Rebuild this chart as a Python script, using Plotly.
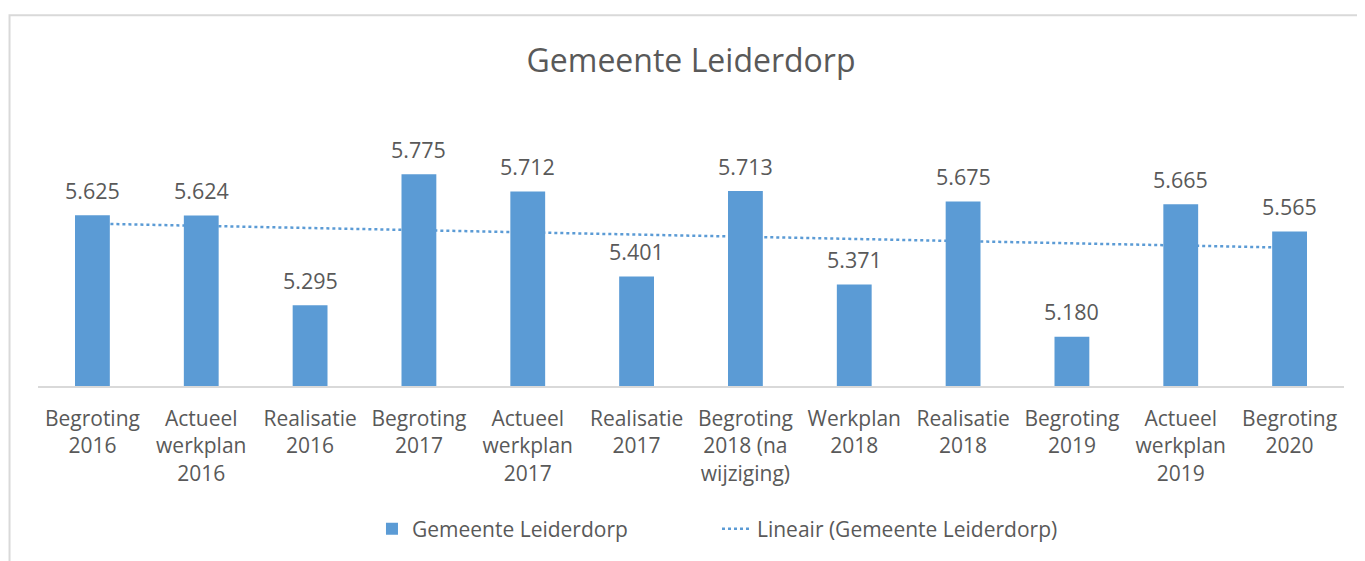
# Gemeente Leiderdorp: staafdiagram met lineaire trendlijn

import plotly.graph_objects as go

categorieen = ['Begroting<br>2016', 'Actueel<br>werkplan<br>2016', 'Realisatie<br>2016',
               'Begroting<br>2017', 'Actueel<br>werkplan<br>2017', 'Realisatie<br>2017',
               'Begroting<br>2018 (na<br>wijziging)', 'Werkplan<br>2018', 'Realisatie<br>2018',
               'Begroting<br>2019', 'Actueel<br>werkplan<br>2019', 'Begroting<br>2020']
waarden = [5.625, 5.624, 5.295, 5.775, 5.712, 5.401, 5.713, 5.371, 5.675, 5.180, 5.665, 5.565]
labels = ['5.625', '5.624', '5.295', '5.775', '5.712', '5.401',
          '5.713', '5.371', '5.675', '5.180', '5.665', '5.565']
# begin- en eindpunt van de trendlijn
trend_x = [categorieen[0], categorieen[-1]]
trend_y = [5.594, 5.506]

blauw = '#5B9BD5'
grijs = '#595959'
font = 'Open Sans'

fig = go.Figure()
fig.add_trace(go.Bar(x=categorieen, y=waarden, name='Gemeente Leiderdorp',
                     marker=dict(color=blauw, line=dict(width=0)), width=0.32,
                     xaxis='x2', yaxis='y2'))
fig.add_trace(go.Scatter(x=trend_x, y=trend_y, mode='lines', name='Lineair (Gemeente Leiderdorp)',
                         line=dict(color=blauw, width=2.5, dash='dot')))

for c, v, t in zip(categorieen, waarden, labels):
    fig.add_annotation(x=c, y=v, text=t, xref='x2', yref='y2', showarrow=False,
                       yanchor='middle', yshift=25, font=dict(size=21.5, color=grijs, family=font))

# plotgebied in pixels
links, rechts, boven, onder = 29.5, 1336.5, 132, 378.5
breed, hoog = rechts - links, onder - boven

as_stijl = dict(type='category', categoryorder='array', categoryarray=categorieen, range=[-0.5, 11.5])
fig.update_layout(
    width=1365, height=561,
    margin=dict(l=links, r=1365 - rechts, t=boven, b=561 - onder),
    paper_bgcolor='white', plot_bgcolor='white',
    font=dict(family=font, color=grijs),
    title=dict(text='Gemeente Leiderdorp', x=0.5, xref='paper', y=1 - 53 / 561, yanchor='middle',
               font=dict(size=32, color=grijs, family=font)),
    xaxis=dict(**as_stijl, showline=True, linecolor='#d9d9d9', linewidth=1.5, showgrid=False,
               ticks='', ticklabelstandoff=13, tickfont=dict(size=21, color=grijs, family=font)),
    xaxis2=dict(**as_stijl, overlaying='x', showticklabels=False, showgrid=False, showline=False),
    yaxis=dict(range=[5.0, 5.9], visible=False),
    yaxis2=dict(range=[5.0, 5.9], visible=False, overlaying='y'),
    showlegend=True,
    legend=dict(orientation='h', x=(709 - links) / breed, xanchor='center',
                y=-(522 - onder) / hoog, yanchor='middle',
                font=dict(size=21, color=grijs, family=font), entrywidth=300, tracegroupgap=0),
    shapes=[dict(type='rect', xref='paper', yref='paper',
                 x0=(1 - links) / breed, x1=1.1, y0=-0.9, y1=1 + (boven - 7) / hoog,
                 line=dict(color='#d9d9d9', width=2), layer='below')],
)

fig.write_html('out.html')
